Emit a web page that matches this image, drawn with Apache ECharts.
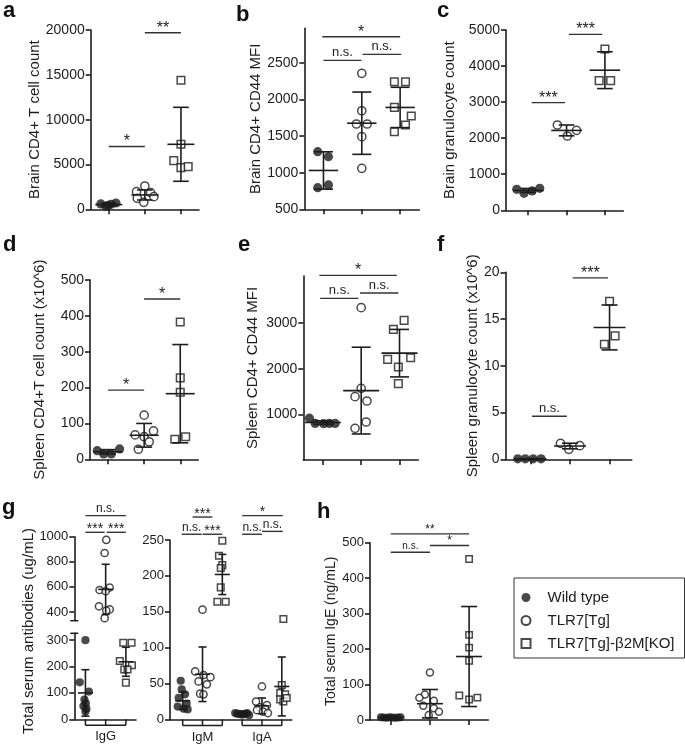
<!DOCTYPE html>
<html><head><meta charset="utf-8">
<script src="https://cdn.jsdelivr.net/npm/echarts@6/dist/echarts.min.js"></script>
<style>html,body{margin:0;padding:0;background:#fff}#c{width:685px;height:748px}</style>
</head><body><div id="c"></div><script>
// ---------------- DATA ----------------
const groupNames = ['Wild type', 'TLR7[Tg]', 'TLR7[Tg]-β2M[KO]'];
const gCats = ['IgG', 'IgM', 'IgA'];

// a: Brain CD4+ T cell count
const aTicks = [0, 5000, 10000, 15000, 20000];
const aWT = [600, 350, 550, 700, 420], aWTj = [-0.22, -0.08, 0.06, 0.2, -0.02];
const aTG = [2600, 1970, 1860, 1410, 1230, 780], aTGj = [0, -0.23, 0.16, 0.25, -0.21, -0.03];
const aKO = [14400, 7250, 5430, 4650, 4760], aKOj = [0, 0, -0.2, 0, 0.2];
const aMean = [520, 1600, 7250], aSD = [140, 560, 4125];
const aSig = [[1, 2, 7000, '*'], [2, 3, 19700, '**']];

// b: Brain CD4+ CD44 MFI
const bTicks = [500, 1000, 1500, 2000, 2500];
const bWT = [1286, 1218, 795, 832], bWTj = [-0.15, 0.13, -0.15, 0.13];
const bTG = [2355, 1845, 1664, 1664, 1491, 1059], bTGj = [0, 0, -0.14, 0.14, 0, 0];
const bKO = [2241, 2241, 1891, 1773, 1650, 1559], bKOj = [-0.15, 0.14, -0.15, 0.29, 0.14, -0.15];
const bMean = [1030, 1675, 1890], bSD = [255, 425, 275];
const bSig = [[1, 1.99, 2532, 'n.s.'], [2.02, 3.03, 2614, 'n.s.'], [0.97, 3, 2855, '*']];

// c: Brain granulocyte count
const cTicks = [0, 1000, 2000, 3000, 4000, 5000];
const cWT = [582, 471, 536, 610], cWTj = [-0.3, -0.11, 0.1, 0.3];
const cTG = [2366, 2061, 2218], cTGj = [-0.24, 0.02, 0.26];
const cKO = [4473, 3595, 3595], cKOj = [0, -0.15, 0.15];
const cMean = [550, 2215, 3885], cSD = [55, 150, 510];
const cSig = [[1.09, 1.96, 2985, '***'], [2.06, 2.93, 4880, '***']];

// d: Spleen CD4+T cell count (x10^6)
const dTicks = [0, 100, 200, 300, 400, 500];
const dWT = [24, 15, 15, 29], dWTj = [-0.3, -0.12, 0.09, 0.32];
const dTG = [123, 68, 63, 79, 49, 28], dTGj = [0, -0.25, 0, 0.26, 0.14, -0.16];
const dKO = [383, 227, 187, 56, 63], dKOj = [0, 0, 0, -0.15, 0.15];
const dMean = [21, 67, 183], dSD = [6, 33, 137];
const dSig = [[1, 2, 193, '*'], [2, 3, 447, '*']];

// e: Spleen CD4+ CD44 MFI
const eTicks = [1000, 2000, 3000];
const eWT = [915, 800, 795, 800, 800], eWTj = [-0.35, -0.2, 0.02, 0.17, 0.32];
const eTG = [3336, 1569, 1387, 1292, 832, 693], eTGj = [0, 0, -0.16, 0.15, 0.13, -0.16];
const eKO = [3058, 2861, 2204, 2241, 2036, 1672], eKOj = [0.12, -0.16, -0.31, 0.29, -0.03, -0.03];
const eMean = [820, 1520, 2340], eSD = [40, 950, 520];
const eSig = [[0.93, 1.93, 3540, 'n.s.'], [1.97, 2.97, 3657, 'n.s.'], [0.91, 2.93, 4044, '*']];

// f: Spleen granulocyte count (x10^6)
const fTicks = [0, 5, 10, 15, 20];
const fWT = [0.05, 0.05, 0.05, 0.05], fWTj = [-0.32, -0.13, 0.07, 0.27];
const fTG = [1.71, 1.07, 1.46], fTGj = [-0.24, -0.03, 0.25];
const fKO = [16.9, 13.2, 12.3], fKOj = [0, 0.14, -0.13];
const fMean = [0.05, 1.42, 14.1], fSD = [0.02, 0.3, 2.4];
const fSig = [[1.04, 1.92, 4.6, 'n.s.'], [2.07, 2.96, 19.4, '***']];

// g: Total serum antibodies (ug/mL)
const gTicksU = [400, 600, 800, 1000], gTicksL = [0, 100, 200, 300], gTicksMA = [0, 50, 100, 150, 200, 250];
const gGWT = [300, 140, 105, 75, 60, 50, 40, 30], gGWTj = [0, -0.28, 0.17, -0.05, 0.02, -0.1, 0.05, 0];
const gGTG = [975, 870, 595, 575, 565, 445, 420, 410, 350], gGTGj = [0.03, -0.05, 0.2, -0.3, 0, -0.33, 0.2, 0.03, -0.05];
const gGKO = [290, 290, 221, 205, 189, 189, 139], gGKOj = [-0.13, 0.28, -0.3, 0.3, -0.08, 0.08, 0];
const gGMean = [100, 580, 218], gGSD = [88, 200, 55];
const gGSig = [[1, 1.95, 1035, '***'], [2.05, 3, 1035, '***'], [1, 3, 1168, 'n.s.']];
const gMWT = [54, 42, 35, 30, 22, 18, 15, 14], gMWTj = [-0.1, -0.05, 0.12, -0.2, 0.2, -0.25, 0.05, 0.25];
const gMTG = [153, 67, 62, 59, 53, 49, 36, 35], gMTGj = [0, -0.37, 0.05, 0.4, -0.2, 0.22, -0.12, 0.05];
const gMKO = [249, 228, 215, 211, 184, 164, 164], gMKOj = [0, -0.17, 0, -0.08, -0.08, -0.25, 0.17];
const gMMean = [26, 63, 202], gMSD = [12, 38, 28];
const gAWT = [9, 8, 8, 7, 7, 8, 9, 6], gAWTj = [-0.35, -0.25, -0.15, -0.05, 0.05, 0.15, 0.25, 0.35];
const gATG = [46, 25, 20, 17, 15, 13, 11, 9], gATGj = [0, -0.3, 0.25, -0.1, 0.15, -0.25, 0.05, 0.3];
const gAKO = [140, 48, 37, 35, 28, 25, 30], gAKOj = [0.08, 0, -0.08, 0.17, -0.08, 0.08, 0.25];
const gAMean = [8, 19, 46], gASD = [1, 11, 41];
const gMASig = [[1.5, 2.5, 282, '***'], [0.95, 1.96, 258, 'n.s.'], [2, 3, 258, '***'],
                [4, 6.05, 284, '*'], [4, 5, 258, 'n.s.'], [5, 6.05, 262, 'n.s.']];

// h: Total serum IgE (ng/mL)
const hTicks = [0, 100, 200, 300, 400, 500];
const hWT = [8, 7, 6, 8, 7, 6, 7, 8], hWTj = [-0.25, -0.18, -0.1, -0.03, 0.04, 0.11, 0.18, 0.25];
const hTG = [134, 72, 63, 54, 40, 33, 23, 14], hTGj = [0, -0.13, -0.27, 0.1, -0.17, 0.1, 0.23, -0.03];
const hKO = [454, 240, 204, 167, 69, 58, 63], hKOj = [0, 0, 0, 0, -0.25, 0, 0.21];
const hMean = [7, 46, 179], hSD = [1.5, 40, 141];
const hSig = [[1, 3, 525, '**'], [1, 2, 473, 'n.s.'], [2, 3, 492, '*']];

// ---------------- BUILD ----------------
const FONT = '"Liberation Sans", Arial, Helvetica, sans-serif';
const INK = '#1c1c1c';
const axisLS = { color: INK, width: 1.6 };
const option = { animation: false, backgroundColor: '#fff', grid: [], xAxis: [], yAxis: [], series: [], graphic: [] };

function addPanel(p) {
  const gi = option.grid.length;
  option.grid.push(Object.assign({ containLabel: false, outerBoundsMode: 'none' }, p.box));
  const xl = p.xLabels || null;
  option.xAxis.push({
    type: 'value', gridIndex: gi, min: p.x[0], max: p.x[1], show: p.showX !== false,
    axisLine: { show: true, onZero: false, lineStyle: axisLS },
    axisTick: { show: !p.noXTick, length: 5, lineStyle: axisLS, customValues: [1, 2, 3] },
    axisLabel: xl ? { show: true, customValues: Object.keys(xl).map(Number), formatter: v => xl[v] || '',
      margin: 11, fontSize: 13, fontFamily: FONT, color: INK } : { show: false },
    splitLine: { show: false }
  });
  option.yAxis.push({
    type: 'value', gridIndex: gi, min: p.y[0], max: p.y[1],
    name: p.yName || '', nameLocation: 'middle', nameGap: p.nameGap || 40, nameRotate: 90,
    nameTextStyle: { fontSize: p.nameFs || 15, fontFamily: FONT, color: INK },
    axisLine: { show: true, onZero: false, lineStyle: axisLS },
    axisTick: { show: true, length: 5, lineStyle: axisLS, customValues: p.yTicks },
    axisLabel: { show: true, customValues: p.yTicks, margin: 6, fontSize: p.tickFs || 14, fontFamily: FONT, color: INK,
      formatter: v => String(v) },
    splitLine: { show: false }
  });
  const st = p.st;
  p.groups.forEach(g => {
    const k = g.kind;
    option.series.push({
      type: 'scatter', name: groupNames[k], xAxisIndex: gi, yAxisIndex: gi, silent: true, z: 3,
      symbol: k === 2 ? 'rect' : 'circle',
      symbolSize: k === 0 ? st.pt : (k === 1 ? st.pt - 1 : st.pt - 1.6),
      itemStyle: k === 0 ? { color: INK } : { color: '#fff', borderColor: INK, borderWidth: 1.5 },
      emphasis: { disabled: true },
      data: g.vals.map((v, i) => [g.x + g.jit[i], v])
    });
  });
  if (p.stats) {
    const s = p.stats;
    option.series.push({
      type: 'custom', xAxisIndex: gi, yAxisIndex: gi, silent: true, z: 4, clip: false,
      data: s.xs.map((x, i) => [x, s.mean[i], s.sd[i]]),
      renderItem: (params, api) => {
        const x = api.value(0), m = api.value(1), sd = api.value(2);
        const c = api.coord([x, m]), t = api.coord([x, m + sd]), b = api.coord([x, m - sd]);
        const ls = { stroke: INK, lineWidth: 1.6 };
        return { type: 'group', children: [
          { type: 'line', shape: { x1: c[0] - st.mw, y1: c[1], x2: c[0] + st.mw, y2: c[1] }, style: ls },
          { type: 'line', shape: { x1: t[0], y1: t[1], x2: b[0], y2: b[1] }, style: ls },
          { type: 'line', shape: { x1: t[0] - st.cw, y1: t[1], x2: t[0] + st.cw, y2: t[1] }, style: ls },
          { type: 'line', shape: { x1: b[0] - st.cw, y1: b[1], x2: b[0] + st.cw, y2: b[1] }, style: ls }
        ] };
      }
    });
  }
  if (p.sig) {
    const sig = p.sig;
    option.series.push({
      type: 'custom', xAxisIndex: gi, yAxisIndex: gi, silent: true, z: 4, clip: false,
      data: sig.map(s => [s[0], s[1], s[2]]),
      renderItem: (params, api) => {
        const lab = sig[params.dataIndex][3];
        const star = lab.indexOf('*') >= 0;
        const p1 = api.coord([api.value(0), api.value(2)]), p2 = api.coord([api.value(1), api.value(2)]);
        return { type: 'group', children: [
          { type: 'line', shape: { x1: p1[0], y1: p1[1], x2: p2[0], y2: p2[1] }, style: { stroke: '#333', lineWidth: 1.4 } },
          { type: 'text', x: (p1[0] + p2[0]) / 2, y: p1[1] + (star ? st.starDy : st.nsDy),
            style: { text: lab, fontSize: star ? st.star : st.ns, fontFamily: FONT, fill: INK, align: 'center', verticalAlign: 'middle' } }
        ] };
      }
    });
  }
  if (p.bracket) {
    const y0 = p.y[0];
    option.series.push({
      type: 'custom', xAxisIndex: gi, yAxisIndex: gi, silent: true, z: 4, clip: false,
      data: p.bracket,
      renderItem: (params, api) => {
        const a = api.coord([api.value(0), y0]), m = api.coord([api.value(1), y0]), b = api.coord([api.value(2), y0]);
        const d = 6, ls = { stroke: INK, lineWidth: 1.5 };
        return { type: 'group', children: [
          { type: 'line', shape: { x1: a[0], y1: a[1], x2: a[0], y2: a[1] + d }, style: ls },
          { type: 'line', shape: { x1: m[0], y1: m[1], x2: m[0], y2: m[1] + d }, style: ls },
          { type: 'line', shape: { x1: b[0], y1: b[1], x2: b[0], y2: b[1] + d }, style: ls },
          { type: 'line', shape: { x1: a[0], y1: a[1] + d, x2: b[0], y2: b[1] + d }, style: ls }
        ] };
      }
    });
  }
  if (p.breakAt !== undefined) {
    option.series.push({
      type: 'custom', xAxisIndex: gi, yAxisIndex: gi, silent: true, z: 4, clip: false,
      data: [[p.x[0], p.breakAt]],
      renderItem: (params, api) => {
        const c = api.coord([api.value(0), api.value(1)]);
        return { type: 'line', shape: { x1: c[0] - 4, y1: c[1], x2: c[0] + 4, y2: c[1] }, style: { stroke: INK, lineWidth: 1.5 } };
      }
    });
  }
}

const stABC = { pt: 9.2, mw: 13.5, cw: 7.8, star: 16, ns: 13, starDy: -4.5, nsDy: -8 };
function trio(wt, wtj, tg, tgj, ko, koj) {
  return [{ x: 1, vals: wt, jit: wtj, kind: 0 }, { x: 2, vals: tg, jit: tgj, kind: 1 }, { x: 3, vals: ko, jit: koj, kind: 2 }];
}

addPanel({ box: { left: 90.7, top: 30, width: 108.3, height: 179.3 }, x: [0.5, 3.5], y: [0, 20000], yTicks: aTicks,
  yName: 'Brain CD4+ T cell count', nameGap: 43, groups: trio(aWT, aWTj, aTG, aTGj, aKO, aKOj),
  stats: { xs: [1, 2, 3], mean: aMean, sd: aSD }, sig: aSig, st: stABC });
addPanel({ box: { left: 304.3, top: 28.3, width: 115, height: 181 }, x: [0.5, 3.5], y: [500, 2970], yTicks: bTicks,
  yName: 'Brain CD4+ CD44 MFI', nameGap: 41, groups: trio(bWT, bWTj, bTG, bTGj, bKO, bKOj),
  stats: { xs: [1, 2, 3], mean: bMean, sd: bSD }, sig: bSig, st: Object.assign({}, stABC, { mw: 14.7, cw: 9.5 }) });
addPanel({ box: { left: 506, top: 30, width: 117.3, height: 180.3 }, x: [0.42, 3.48], y: [0, 5000], yTicks: cTicks,
  yName: 'Brain granulocyte count', nameGap: 49, groups: trio(cWT, cWTj, cTG, cTGj, cKO, cKOj),
  stats: { xs: [1, 2, 3], mean: cMean, sd: cSD }, sig: cSig, st: Object.assign({}, stABC, { mw: 15.3 }) });
addPanel({ box: { left: 90, top: 280, width: 108.3, height: 179.3 }, x: [0.5, 3.5], y: [0, 500], yTicks: dTicks,
  yName: 'Spleen CD4+T cell count (x10^6)', nameGap: 43, groups: trio(dWT, dWTj, dTG, dTGj, dKO, dKOj),
  stats: { xs: [1, 2, 3], mean: dMean, sd: dSD }, sig: dSig, st: Object.assign({}, stABC, { mw: 14.5, cw: 8 }) });
addPanel({ box: { left: 303.3, top: 276, width: 115, height: 184 }, x: [0.49, 3.49], y: [0, 4030], yTicks: eTicks,
  yName: 'Spleen CD4+ CD44 MFI', nameGap: 43, groups: trio(eWT, eWTj, eTG, eTGj, eKO, eKOj),
  stats: { xs: [1, 2, 3], mean: eMean, sd: eSD }, sig: eSig, st: Object.assign({}, stABC, { mw: 18, cw: 9.5 }) });
addPanel({ box: { left: 505.5, top: 272.3, width: 126.2, height: 187 }, x: [0.37, 3.56], y: [0, 20], yTicks: fTicks,
  yName: 'Spleen granulocyte count (x10^6)', nameGap: 22, groups: trio(fWT, fWTj, fTG, fTGj, fKO, fKOj),
  stats: { xs: [1, 2, 3], mean: fMean, sd: fSD }, sig: fSig, st: Object.assign({}, stABC, { mw: 16, cw: 8 }) });

const stG = { pt: 8.2, mw: 7.5, cw: 4, star: 14, ns: 12, starDy: -3.2, nsDy: -6.5 };
// g: IgG upper (broken axis)
addPanel({ box: { left: 74.3, top: 536.7, width: 61.7, height: 84 }, x: [0.45, 3.5], y: [330, 1000], yTicks: gTicksU,
  showX: false, tickFs: 13, groups: [{ x: 2, vals: gGTG, jit: gGTGj, kind: 1 }],
  stats: { xs: [2], mean: [gGMean[1]], sd: [gGSD[1]] }, sig: gGSig, st: stG, breakAt: 330 });
// g: IgG lower
addPanel({ box: { left: 74.3, top: 633.3, width: 61.7, height: 86 }, x: [0.45, 3.5], y: [0, 326], yTicks: gTicksL,
  noXTick: true, tickFs: 13, xLabels: { 2: gCats[0] },
  groups: [{ x: 1, vals: gGWT, jit: gGWTj, kind: 0 }, { x: 3, vals: gGKO, jit: gGKOj, kind: 2 }],
  stats: { xs: [1, 3], mean: [gGMean[0], gGMean[2]], sd: [gGSD[0], gGSD[2]] }, st: stG, bracket: [[1, 2, 3]], breakAt: 326 });
// g: IgM / IgA
addPanel({ box: { left: 170, top: 540, width: 121.7, height: 179.5 }, x: [0.36, 6.5], y: [0, 250], yTicks: gTicksMA,
  noXTick: true, tickFs: 13, xLabels: { 2: gCats[1], 5: gCats[2] },
  groups: [{ x: 1, vals: gMWT, jit: gMWTj, kind: 0 }, { x: 2, vals: gMTG, jit: gMTGj, kind: 1 }, { x: 3, vals: gMKO, jit: gMKOj, kind: 2 },
           { x: 4, vals: gAWT, jit: gAWTj, kind: 0 }, { x: 5, vals: gATG, jit: gATGj, kind: 1 }, { x: 6, vals: gAKO, jit: gAKOj, kind: 2 }],
  stats: { xs: [1, 2, 3, 4, 5, 6], mean: gMMean.concat(gAMean), sd: gMSD.concat(gASD) },
  sig: gMASig, st: stG, bracket: [[1, 2, 3], [4, 5, 6]] });
// h
addPanel({ box: { left: 370, top: 542.7, width: 118.3, height: 177.3 }, x: [0.47, 3.49], y: [0, 500], yTicks: hTicks,
  yName: 'Total serum IgE (ng/mL)', nameGap: 31, nameFs: 14, tickFs: 13,
  groups: trio(hWT, hWTj, hTG, hTGj, hKO, hKOj),
  stats: { xs: [1, 2, 3], mean: hMean, sd: hSD }, sig: hSig,
  st: { pt: 8, mw: 13, cw: 8, star: 12, ns: 10, starDy: -4.4, nsDy: -6.5 } });

// shared y-axis title for panel g
option.graphic.push({ type: 'text', x: 28.5, y: 631, rotation: Math.PI / 2, silent: true,
  style: { text: 'Total serum antibodies (ug/mL)', fontSize: 15, fontFamily: FONT, fill: INK, align: 'center', verticalAlign: 'middle' } });

// panel letters
const letters = ['a', 'b', 'c', 'd', 'e', 'f', 'g', 'h'];
const letterPos = [[3, 11], [236, 15], [437, 11], [3, 245], [238, 245], [437, 245], [2, 508], [317, 512]];
letters.forEach((l, i) => option.graphic.push({ type: 'text', x: letterPos[i][0], y: letterPos[i][1], silent: true,
  style: { text: l, fontSize: 22, fontWeight: 'bold', fontFamily: FONT, fill: '#111', align: 'left', verticalAlign: 'middle' } }));

option.legend = {
  orient: 'vertical', left: 514, top: 578, padding: [11, 10, 6, 6.5], itemWidth: 9, itemHeight: 9, itemGap: 6,
  borderColor: '#333', borderWidth: 1, selectedMode: false, data: groupNames,
  textStyle: { fontSize: 15, fontFamily: FONT, color: INK, lineHeight: 17, padding: [0, 0, 0, 12] }
};

const chart = echarts.init(document.getElementById('c'), null, { renderer: 'canvas' });
chart.setOption(option);
</script></body></html>
